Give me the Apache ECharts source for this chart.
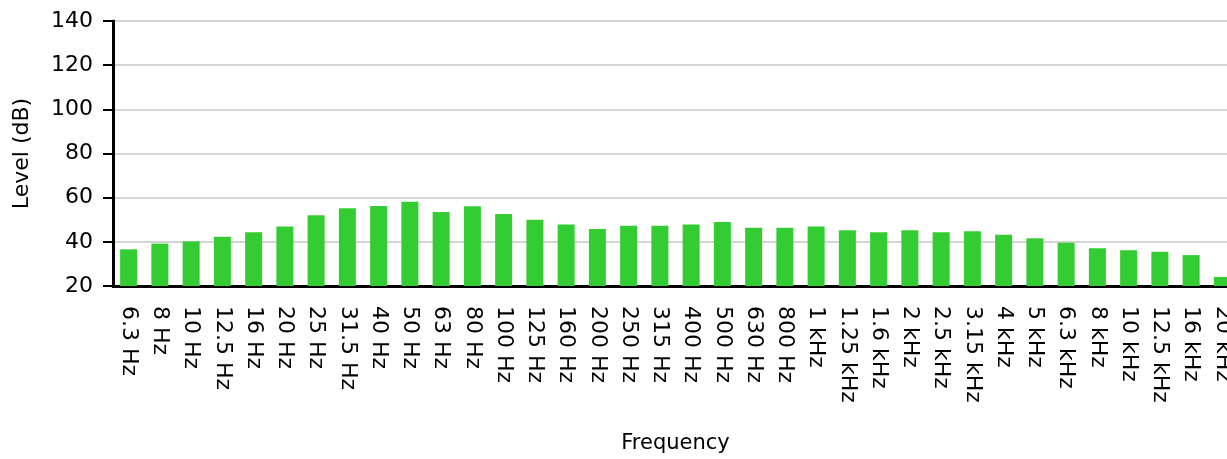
<!DOCTYPE html>
<html>
<head>
<meta charset="utf-8">
<script src="https://cdn.jsdelivr.net/npm/echarts@6/dist/echarts.min.js"></script>
<style>
  html, body { margin: 0; padding: 0; background: #fff; }
  #chart { width: 1227px; height: 459px; }
</style>
</head>
<body>
<div id="chart"></div>
<script>
const bands = [
  '6.3 Hz', '8 Hz', '10 Hz', '12.5 Hz', '16 Hz', '20 Hz', '25 Hz', '31.5 Hz', '40 Hz', '50 Hz',
  '63 Hz', '80 Hz', '100 Hz', '125 Hz', '160 Hz', '200 Hz', '250 Hz', '315 Hz', '400 Hz', '500 Hz',
  '630 Hz', '800 Hz', '1 kHz', '1.25 kHz', '1.6 kHz', '2 kHz', '2.5 kHz', '3.15 kHz', '4 kHz', '5 kHz',
  '6.3 kHz', '8 kHz', '10 kHz', '12.5 kHz', '16 kHz', '20 kHz'
]
const levels = [
  36.6, 39.2, 40.2, 42.3, 44.3, 46.9, 52.0, 55.2, 56.2, 58.2,
  53.5, 56.1, 52.6, 50.0, 47.9, 45.8, 47.3, 47.3, 47.9, 49.0,
  46.4, 46.4, 46.9, 45.2, 44.3, 45.2, 44.3, 44.8, 43.2, 41.6,
  39.6, 37.1, 36.2, 35.5, 34.0, 24.1
]

const FONT = 'DejaVu Sans'

const chart = echarts.init(document.getElementById('chart'))

const option = {
  animation: false,
  grid: {
    left: 113,
    right: -11,
    top: 21,
    bottom: 173,
    containLabel: false,
    outerBoundsMode: 'none'
  },
  xAxis: {
    type: 'category',
    data: bands,
    name: 'Frequency',
    nameLocation: 'middle',
    nameGap: 147,
    nameTextStyle: { fontFamily: FONT, fontSize: 21, color: '#000' },
    axisLine: { lineStyle: { color: '#000', width: 3 } },
    axisTick: { alignWithLabel: false, length: 10, lineStyle: { color: '#000', width: 3 } },
    axisLabel: {
      interval: 0,
      rotate: -90,
      margin: 20,
      fontFamily: FONT,
      fontSize: 22,
      color: '#000'
    },
    splitLine: { show: false }
  },
  yAxis: {
    type: 'value',
    min: 20,
    max: 140,
    interval: 20,
    name: 'Level (dB)',
    nameLocation: 'middle',
    nameGap: 80,
    nameRotate: 90,
    nameTextStyle: { fontFamily: FONT, fontSize: 22, color: '#000' },
    axisLine: { show: true, lineStyle: { color: '#000', width: 3 } },
    axisTick: { show: true, length: 10, lineStyle: { color: '#000', width: 2 } },
    axisLabel: { margin: 20, fontFamily: FONT, fontSize: 22, color: '#000' },
    splitLine: { show: true, lineStyle: { color: '#d4d4d4', width: 2 } }
  },
  series: [
    {
      type: 'bar',
      data: levels,
      barWidth: 17,
      itemStyle: { color: '#33cc33' }
    }
  ]
}

chart.setOption(option)
</script>
</body>
</html>
